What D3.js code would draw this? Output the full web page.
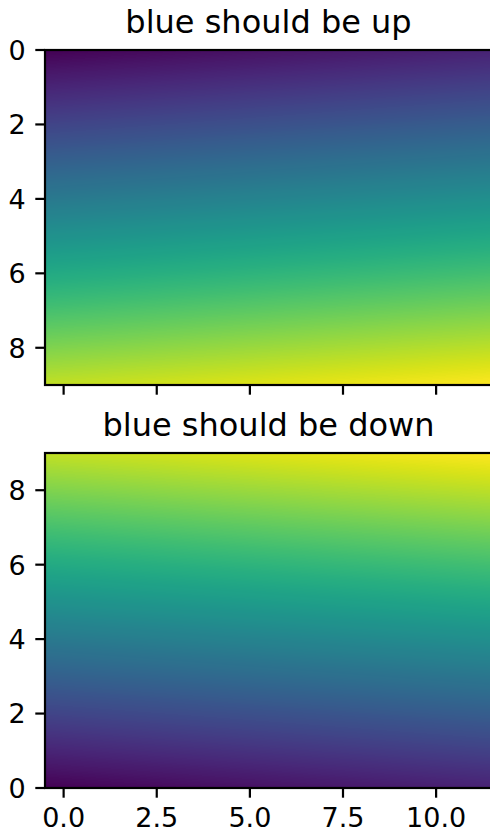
<!DOCTYPE html>
<html>
<head>
<meta charset="utf-8">
<script src="https://cdn.jsdelivr.net/npm/d3@7"></script>
<style>
  html, body { margin: 0; padding: 0; background: #fff; overflow: hidden; }
  svg { display: block; }
  text { font-family: "DejaVu Sans", sans-serif; fill: #000; }
</style>
</head>
<body>
<svg id="chart" width="490" height="832"></svg>
<script>
// ---- data (10 rows x 12 columns image) ----
const grid = [
  [0, 1, 2, 3, 4, 5, 6, 7, 8, 9, 10, 11],
  [12, 13, 14, 15, 16, 17, 18, 19, 20, 21, 22, 23],
  [24, 25, 26, 27, 28, 29, 30, 31, 32, 33, 34, 35],
  [36, 37, 38, 39, 40, 41, 42, 43, 44, 45, 46, 47],
  [48, 49, 50, 51, 52, 53, 54, 55, 56, 57, 58, 59],
  [60, 61, 62, 63, 64, 65, 66, 67, 68, 69, 70, 71],
  [72, 73, 74, 75, 76, 77, 78, 79, 80, 81, 82, 83],
  [84, 85, 86, 87, 88, 89, 90, 91, 92, 93, 94, 95],
  [96, 97, 98, 99, 100, 101, 102, 103, 104, 105, 106, 107],
  [108, 109, 110, 111, 112, 113, 114, 115, 116, 117, 118, 119]
];
const titles = ["blue should be up", "blue should be down"];
const origins = ["upper", "lower"];
const xExtent = [-0.5, 11.5];
const yExtent = [0, 9];
const xTicks = [0, 2.5, 5, 7.5, 10];
const xTickLabels = ["0.0", "2.5", "5.0", "7.5", "10.0"];
const yTicks = [0, 2, 4, 6, 8];

// ---- layout ----
const plotLeft = 45, plotRight = 492;
const panels = [{ top: 50, bottom: 385 }, { top: 453, bottom: 788 }];
const tickLen = 9.7, tickPad = 9.7, lw = 2.2;
const tickFont = 27, titleFont = 32;

const svg = d3.select("#chart");
const x = d3.scaleLinear().domain(xExtent).range([plotLeft, plotRight]);
const nRows = grid.length, nCols = grid[0].length;
const vExt = d3.extent(grid.flat());
const color = d3.scaleSequential(d3.interpolateViridis).domain(vExt);
// image cells stretched across the full extent (edge cells meet the axes edges)
const colPos = d3.scaleLinear().domain(xExtent).range([0, nCols - 1]).clamp(true);
const rowPos = d3.scaleLinear().domain(yExtent).range([0, nRows - 1]).clamp(true);

function sample(dx, dy) {
  const c = colPos(dx), r = rowPos(dy);
  const c0 = Math.min(Math.floor(c), nCols - 2), r0 = Math.min(Math.floor(r), nRows - 2);
  const fc = c - c0, fr = r - r0;
  const v00 = grid[r0][c0], v01 = grid[r0][c0 + 1], v10 = grid[r0 + 1][c0], v11 = grid[r0 + 1][c0 + 1];
  return (v00 * (1 - fc) + v01 * fc) * (1 - fr) + (v10 * (1 - fc) + v11 * fc) * fr;
}

panels.forEach((p, i) => {
  const y = d3.scaleLinear().domain(yExtent)
    .range(origins[i] === "upper" ? [p.top, p.bottom] : [p.bottom, p.top]);
  const W = Math.round(plotRight - plotLeft), H = Math.round(p.bottom - p.top);
  const canvas = document.createElement("canvas");
  canvas.width = W; canvas.height = H;
  const ctx = canvas.getContext("2d");
  const img = ctx.createImageData(W, H);
  for (let py = 0; py < H; py++) {
    const dy = y.invert(p.top + py + 0.5);
    for (let px = 0; px < W; px++) {
      const dx = x.invert(plotLeft + px + 0.5);
      const c = d3.rgb(color(sample(dx, dy)));
      const k = (py * W + px) * 4;
      img.data[k] = c.r; img.data[k + 1] = c.g; img.data[k + 2] = c.b; img.data[k + 3] = 255;
    }
  }
  ctx.putImageData(img, 0, 0);
  svg.append("image")
    .attr("x", plotLeft).attr("y", p.top)
    .attr("width", W).attr("height", H)
    .attr("preserveAspectRatio", "none")
    .attr("href", canvas.toDataURL());

  // spines
  svg.append("rect")
    .attr("x", plotLeft).attr("y", p.top)
    .attr("width", plotRight - plotLeft).attr("height", p.bottom - p.top)
    .attr("fill", "none").attr("stroke", "#000").attr("stroke-width", lw);

  // y ticks
  const gy = svg.append("g");
  yTicks.forEach(t => {
    gy.append("line")
      .attr("x1", plotLeft).attr("x2", plotLeft - tickLen)
      .attr("y1", y(t)).attr("y2", y(t))
      .attr("stroke", "#000").attr("stroke-width", lw);
    gy.append("text")
      .attr("x", plotLeft - tickLen - tickPad)
      .attr("y", y(t) + 0.365 * tickFont)
      .attr("text-anchor", "end")
      .attr("font-size", tickFont)
      .text(String(t));
  });

  // x ticks
  const gx = svg.append("g");
  xTicks.forEach((t, j) => {
    gx.append("line")
      .attr("x1", x(t)).attr("x2", x(t))
      .attr("y1", p.bottom).attr("y2", p.bottom + tickLen)
      .attr("stroke", "#000").attr("stroke-width", lw);
    if (i === panels.length - 1) {
      gx.append("text")
        .attr("x", x(t))
        .attr("y", p.bottom + tickLen + tickPad + 0.73 * tickFont)
        .attr("text-anchor", "middle")
        .attr("font-size", tickFont)
        .text(xTickLabels[j]);
    }
  });

  // title
  svg.append("text")
    .attr("x", (plotLeft + plotRight) / 2)
    .attr("y", p.top - 16.7)
    .attr("text-anchor", "middle")
    .attr("font-size", titleFont)
    .text(titles[i]);
});
</script>
</body>
</html>
